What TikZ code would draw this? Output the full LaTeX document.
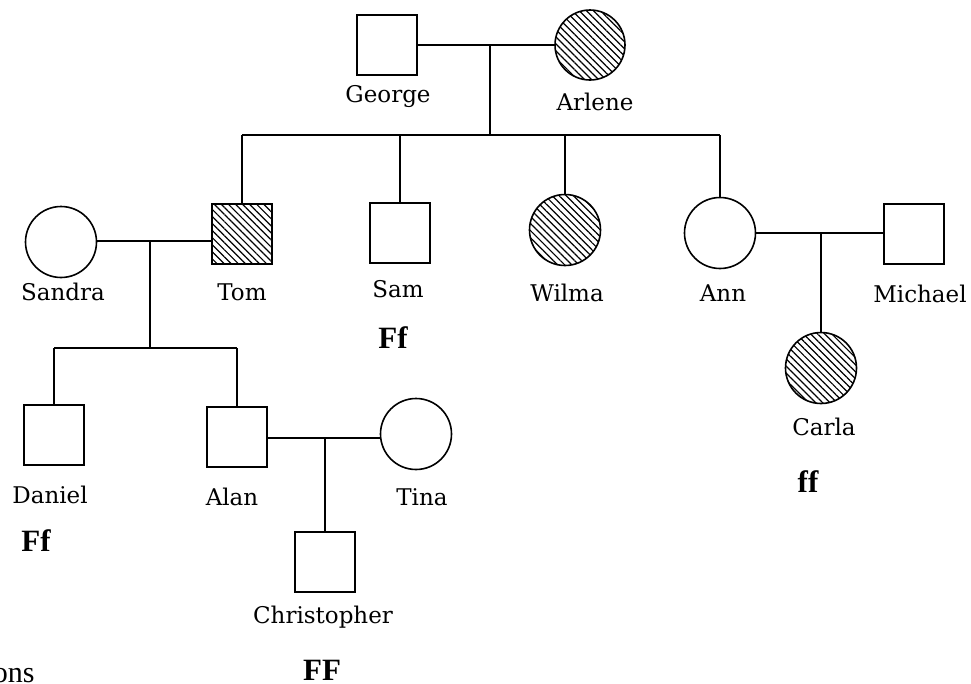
\documentclass[tikz,border=0pt]{standalone}
\usepackage{fontspec}
\setmainfont{Liberation Serif}
\newfontfamily\labelfont{DejaVu Serif}
\usetikzlibrary{patterns.meta}
\begin{document}
\begin{tikzpicture}[x=1pt,y=-1pt,
  line width=1.6pt,
  male/.style={draw, rectangle, minimum size=60pt, inner sep=0pt},
  female/.style={draw, circle, minimum size=71pt, inner sep=0pt},
  affected/.style={pattern={Lines[angle=-45,distance=5pt,line width=1.2pt]}},
  pname/.style={anchor=base, font=\labelfont\fontsize{23}{23}\selectfont, inner sep=0pt},
  geno/.style={anchor=base, font=\bfseries\fontsize{31}{31}\selectfont, inner sep=0pt},
  conn/.style={draw, line width=1.6pt}
]
\useasboundingbox (0,0) rectangle (971,683);

% generation I
\node[male] (george) at (387,45) {};
\node[female, affected, minimum size=70pt] (arlene) at (590,45) {};
% generation II
\node[male, affected] (tom) at (242,234) {};
\node[male] (sam) at (400,233) {};
\node[female, affected] (wilma) at (565,230) {};
\node[female] (ann) at (720,233) {};
\node[female] (sandra) at (61,242) {};
\node[male] (michael) at (914,234) {};
% generation III
\node[male] (daniel) at (54,435) {};
\node[male] (alan) at (237,437) {};
\node[female] (tina) at (416,434) {};
\node[female, affected] (carla) at (821,368) {};
% generation IV
\node[male] (chris) at (325,562) {};

% names
\node[pname] (georgeL) at (388,102) {George};
\node[pname] (arleneL) at (595,110) {Arlene};
\node[pname] (sandraL) at (63,300) {Sandra};
\node[pname] (tomL) at (242,300) {Tom};
\node[pname] (samL) at (398,297) {Sam};
\node[pname] (wilmaL) at (567,301) {Wilma};
\node[pname] (annL) at (723,301) {Ann};
\node[pname] (michaelL) at (920,302) {Michael};
\node[pname] (carlaL) at (824,435) {Carla};
\node[pname] (danielL) at (50,503) {Daniel};
\node[pname] (alanL) at (232,505) {Alan};
\node[pname] (tinaL) at (422,505) {Tina};
\node[pname] (chrisL) at (323,623) {Christopher};

% genotypes
\node[geno] (samG) at (393,348) {Ff};
\node[geno] (carlaG) at (808,492) {ff};
\node[geno] (danielG) at (36,551) {Ff};
\node[geno] (chrisG) at (322,680) {FF};
\node[anchor=base west, inner sep=0pt, font=\fontsize{30}{30}\selectfont] (ons) at (-8,682) {ons};

% George + Arlene
\coordinate (ga) at (490,45);
\coordinate (gab) at (490,135);
\draw[conn] (george.east) -- (arlene.west);
\draw[conn] (ga) -- (gab);
\draw[conn] (tom.north |- gab) -- (ann.north |- gab);
\draw[conn] (tom.north |- gab) -- (tom.north);
\draw[conn] (sam.north |- gab) -- (sam.north);
\draw[conn] (wilma.north |- gab) -- (wilma.north);
\draw[conn] (ann.north |- gab) -- (ann.north);

% Sandra + Tom
\coordinate (st) at (150,241);
\coordinate (stb) at (150,348);
\draw[conn] (sandra.east |- st) -- (tom.west |- st);
\draw[conn] (st) -- (stb);
\draw[conn] (daniel.north |- stb) -- (alan.north |- stb);
\draw[conn] (daniel.north |- stb) -- (daniel.north);
\draw[conn] (alan.north |- stb) -- (alan.north);

% Alan + Tina
\coordinate (at) at (325,438);
\draw[conn] (alan.east |- at) -- (tina.west |- at);
\draw[conn] (at) -- (chris.north);

% Ann + Michael
\coordinate (am) at (821,233);
\draw[conn] (ann.east) -- (michael.west |- ann.east);
\draw[conn] (am) -- (carla.north);
\end{tikzpicture}
\end{document}
